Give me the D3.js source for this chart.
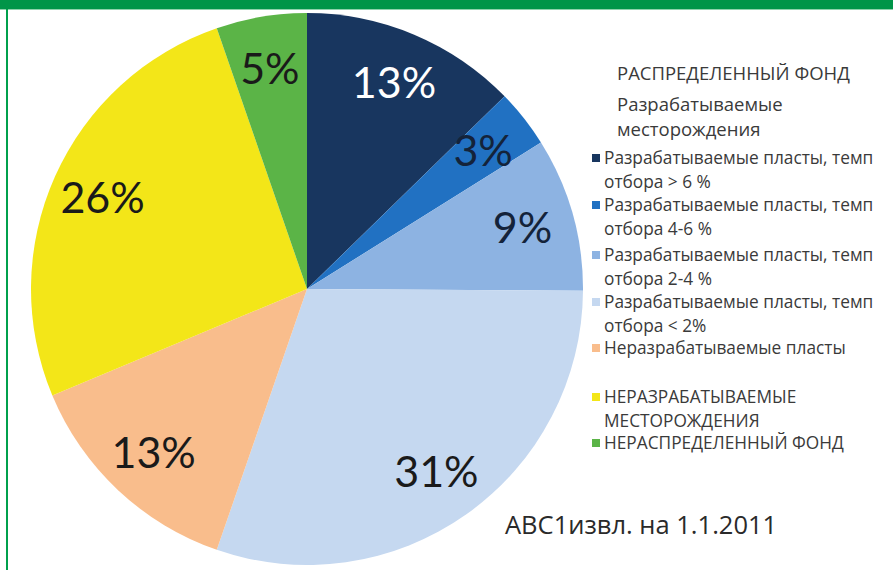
<!DOCTYPE html>
<html>
<head>
<meta charset="utf-8">
<script src="https://cdn.jsdelivr.net/npm/d3@7"></script>
<style>
  html, body { margin: 0; padding: 0; background: #fff; }
  svg { display: block; }
</style>
</head>
<body>
<svg id="chart"></svg>
<script>
// slices, clockwise from 12 o'clock
const sliceNames = [
  'Разрабатываемые пласты, темп отбора > 6 %',
  'Разрабатываемые пласты, темп отбора 4-6 %',
  'Разрабатываемые пласты, темп отбора 2-4 %',
  'Разрабатываемые пласты, темп отбора < 2%',
  'Неразрабатываемые пласты',
  'НЕРАЗРАБАТЫВАЕМЫЕ МЕСТОРОЖДЕНИЯ',
  'НЕРАСПРЕДЕЛЕННЫЙ ФОНД'
];
const sliceValues = [12.7, 3.4, 9.0, 30.2, 13.4, 26.0, 5.3];
const sliceLabels = ['13%', '3%', '9%', '31%', '13%', '26%', '5%'];
const sliceColors = ['#18365f', '#2171c2', '#8db3e2', '#c5d8f0', '#f9bd8c', '#f3e618', '#5bb447'];
const labelColors = ['#ffffff', '#14233a', '#14233a', '#1a1a1a', '#1a1a1a', '#1a1a1a', '#1a1a1a'];

// legend text
const legendHeader = ['РАСПРЕДЕЛЕННЫЙ ФОНД', 'Разрабатываемые', 'месторождения'];
const legendLines = [
  ['Разрабатываемые пласты, темп', 'отбора > 6 %'],
  ['Разрабатываемые пласты, темп', 'отбора 4-6 %'],
  ['Разрабатываемые пласты, темп', 'отбора 2-4 %'],
  ['Разрабатываемые пласты, темп', 'отбора < 2%'],
  ['Неразрабатываемые пласты'],
  ['НЕРАЗРАБАТЫВАЕМЫЕ', 'МЕСТОРОЖДЕНИЯ'],
  ['НЕРАСПРЕДЕЛЕННЫЙ ФОНД']
];
const caption = 'АВС1извл. на 1.1.2011';

const width = 893, height = 570;
const cx = 307, cy = 289, radius = 276;
const font = 'Lato, "Open Sans", sans-serif';
const legendFamily = '"Open Sans", Lato, sans-serif';

const svg = d3.select('#chart')
  .attr('width', width)
  .attr('height', height);

// frame: green top bar and left rule
svg.append('rect')
  .attr('x', 0).attr('y', 0)
  .attr('width', width).attr('height', 9)
  .attr('fill', '#009548');
svg.append('rect')
  .attr('x', 0).attr('y', 9)
  .attr('width', width).attr('height', 1)
  .attr('fill', '#8fd2ac');
svg.append('rect')
  .attr('x', 6).attr('y', 9)
  .attr('width', 2).attr('height', height - 9)
  .attr('fill', '#00a04c');

const pie = d3.pie().sort(null).value(d => d);
const arcs = pie(sliceValues);
const arc = d3.arc().innerRadius(0).outerRadius(radius);
const labelArc = d3.arc().innerRadius(224).outerRadius(224);

const g = svg.append('g')
  .attr('transform', 'translate(' + cx + ',' + cy + ')');

g.selectAll('path.slice')
  .data(arcs)
  .enter()
  .append('path')
  .attr('class', 'slice')
  .attr('d', arc)
  .attr('fill', (d, i) => sliceColors[i]);

g.selectAll('text.pct')
  .data(arcs)
  .enter()
  .append('text')
  .attr('class', 'pct')
  .attr('transform', d => 'translate(' + labelArc.centroid(d) + ')')
  .attr('text-anchor', 'middle')
  .attr('dy', '0.36em')
  .style('font-family', font)
  .style('font-size', '43px')
  .attr('fill', (d, i) => labelColors[i])
  .text((d, i) => sliceLabels[i]);

// legend
const legend = svg.append('g');
const textColor = '#3a3a3a';
const headerFont = '18.5px';
const legendFont = '17.3px';

legendHeader.forEach((t, i) => {
  legend.append('text')
    .attr('x', 617).attr('y', [80, 111, 136][i])
    .style('font-family', legendFamily)
    .style('font-size', headerFont)
    .style('font-weight', i === 0 ? 500 : 400)
    .attr('fill', textColor)
    .text(t);
});

const itemTop = [158, 205, 255, 302, 348, 397, 443];
const lineGap = 23.5;
legendLines.forEach((lines, i) => {
  legend.append('rect')
    .attr('x', 592).attr('y', itemTop[i] - 4)
    .attr('width', 8).attr('height', 8)
    .attr('fill', sliceColors[i]);
  lines.forEach((t, j) => {
    legend.append('text')
      .attr('x', 604).attr('y', itemTop[i] + j * lineGap + 6)
      .style('font-family', legendFamily)
      .style('font-size', legendFont)
      .style('font-weight', i >= 5 ? 500 : 400)
      .attr('fill', textColor)
      .text(t);
  });
});

svg.append('text')
  .attr('x', 505).attr('y', 534)
  .style('font-family', legendFamily)
  .style('font-size', '25.5px')
  .attr('fill', '#2a2a2a')
  .text(caption);
</script>
</body>
</html>
